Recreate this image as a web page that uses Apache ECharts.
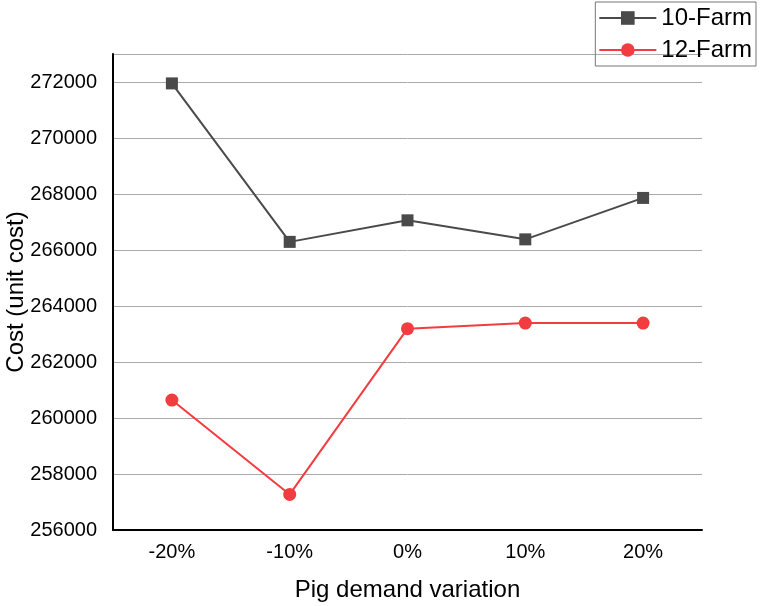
<!DOCTYPE html>
<html>
<head>
<meta charset="utf-8">
<script src="https://cdn.jsdelivr.net/npm/echarts@6/dist/echarts.min.js"></script>
<style>
html,body{margin:0;padding:0;background:#fff;}
#chart{width:762px;height:606px;}
</style>
</head>
<body>
<div id="chart"></div>
<script>
const categories = ['-20%', '-10%', '0%', '10%', '20%'];
const farm10 = [271950, 266290, 267060, 266380, 267860];
const farm12 = [260640, 257270, 263190, 263390, 263390];
const seriesNames = ['10-Farm', '12-Farm'];
const xName = 'Pig demand variation';
const yName = 'Cost (unit cost)';

const font = 'Arial, "Liberation Sans", sans-serif';
const chart = echarts.init(document.getElementById('chart'), null, {renderer: 'canvas'});
chart.setOption({
  animation: false,
  backgroundColor: '#fff',
  textStyle: {fontFamily: font},
  grid: {left: 113, top: 54, right: 60, bottom: 76, containLabel: false, outerBoundsMode: 'none'},
  legend: {
    orient: 'vertical',
    right: 6,
    top: 2,
    padding: [4, 4, 4, 3],
    itemGap: 8,
    itemWidth: 57,
    itemHeight: 17,
    borderColor: '#777',
    borderWidth: 1,
    textStyle: {fontSize: 24, color: '#000', fontFamily: font},
    data: seriesNames
  },
  xAxis: {
    type: 'category',
    data: categories,
    boundaryGap: true,
    name: xName,
    nameLocation: 'middle',
    nameGap: 48,
    nameMoveOverlap: false,
    nameTextStyle: {fontSize: 24, color: '#000', fontFamily: font},
    axisLine: {lineStyle: {color: '#000', width: 2}},
    axisTick: {show: false},
    axisLabel: {fontSize: 20, color: '#000', margin: 12, fontFamily: font},
    splitLine: {show: false}
  },
  yAxis: {
    type: 'value',
    min: 256000,
    max: 273000,
    interval: 2000,
    name: yName,
    nameLocation: 'middle',
    nameGap: 85,
    nameMoveOverlap: false,
    nameTextStyle: {fontSize: 24, color: '#000', fontFamily: font},
    axisLine: {show: true, lineStyle: {color: '#000', width: 2}},
    axisTick: {show: false},
    axisLabel: {fontSize: 20, color: '#000', margin: 16, fontFamily: font,
      showMaxLabel: false, formatter: function (v) { return String(v); }},
    splitLine: {show: true, lineStyle: {color: '#aaa', width: 1}}
  },
  series: [
    {
      name: seriesNames[0],
      type: 'line',
      data: farm10,
      symbol: 'rect',
      symbolSize: 12,
      itemStyle: {color: '#4a4a4a'},
      lineStyle: {color: '#4a4a4a', width: 2}
    },
    {
      name: seriesNames[1],
      type: 'line',
      data: farm12,
      symbol: 'circle',
      symbolSize: 13,
      itemStyle: {color: '#f23c3f'},
      lineStyle: {color: '#f23c3f', width: 2}
    }
  ]
});
</script>
</body>
</html>
